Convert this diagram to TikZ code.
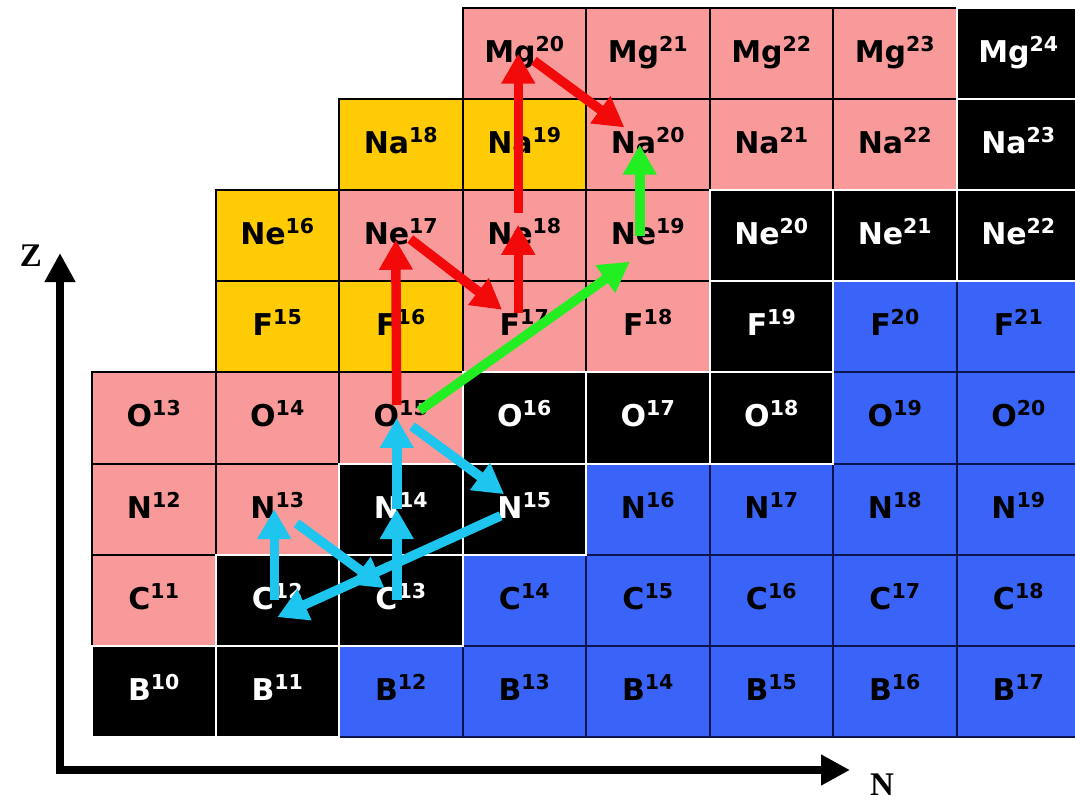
\documentclass[tikz,border=0pt]{standalone}
\usepackage{fontspec}
\usepackage{tikz}
\usetikzlibrary{arrows.meta,calc}
\setsansfont{DejaVu Sans}
\newfontfamily\axisfont{Liberation Serif}
\definecolor{rosy}{HTML}{F99A9A}
\definecolor{amber}{HTML}{FFCB05}
\definecolor{azure}{HTML}{3A64F7}
\definecolor{navy}{HTML}{0B1450}
\definecolor{cno}{HTML}{1EC6EF}
\definecolor{hot}{HTML}{F20A0A}
\definecolor{lime}{HTML}{22EE22}
\newcommand{\nuc}[2]{#1\raisebox{11pt}{\fontsize{20.5}{20.5}\selectfont #2}}

\begin{document}
\begin{tikzpicture}[x=1pt, y=-1pt,
      cell/.style={rectangle, minimum width=123.5pt, minimum height=91.1pt,
                   inner sep=0pt, outer sep=0pt, line width=2pt,
                   font=\sffamily\bfseries\fontsize{30}{36}\selectfont,
                   text height=24pt, text depth=6pt},
      cellr/.style={cell, fill=rosy, draw=black},
      cella/.style={cell, fill=amber, draw=black},
      cellu/.style={cell, fill=azure, draw=navy},
      celld/.style={cell, fill=black, draw=white, text=white},
      flow/.style={line width=9.5pt, -{Triangle[width=32pt,length=30pt]}},
      axis/.style={line width=8pt, line join=miter,
                   {Triangle[width=29pt,length=29pt]}-{Triangle[width=29pt,length=29pt]}},
      axlabel/.style={font=\axisfont\bfseries\fontsize{33}{36}\selectfont}
    ]
      \useasboundingbox (0,0) rectangle (1075,803);
      % chart of nuclides
      \foreach \el/\row/\first/\mass/\kinds in {
          Mg/0/3/20/{r,r,r,r,d},
          Na/1/2/18/{a,a,r,r,r,d},
          Ne/2/1/16/{a,r,r,r,d,d,d},
          F/3/1/15/{a,a,r,r,d,u,u},
          O/4/0/13/{r,r,r,d,d,d,u,u},
          N/5/0/12/{r,r,d,d,u,u,u,u},
          C/6/0/11/{r,d,d,u,u,u,u,u},
          B/7/0/10/{d,d,u,u,u,u,u,u}}
        \foreach \kind [count=\i from 0] in \kinds {
          \pgfmathtruncatemacro{\col}{\first+\i}
          \pgfmathtruncatemacro{\A}{\mass+\i}
          \node[cell\kind] (\el\A) at (153.75+123.5*\col, 53.55+91.1*\row) {\nuc{\el}{\A}};
        }
      \foreach \n in {Mg24,Na23,Ne20,Ne21,Ne22,F19,O16,O17,O18,N14,N15,C12,C13,B10,B11}
        \draw[white, line width=2pt] (\n.north west) rectangle (\n.south east);

      % CNO cycle
      \draw[flow, cno] ([xshift=-3pt]C12.center) -- ([xshift=-3pt]N13.center);
      \draw[flow, cno, shorten <=24pt, shorten >=20pt] (N13.center) -- (C13.center);
      \draw[flow, cno] ([xshift=-4pt]C13.center) -- ([xshift=-4pt]N14.center);
      \draw[flow, cno] ([xshift=-4pt]N14.center) -- ([xshift=-4pt]O15.center);
      \draw[flow, cno, shorten <=14pt, shorten >=25pt] (O15.center) -- (N15.center);
      \draw[flow, cno, shorten <=26pt] ([yshift=4pt]N15.center) -- ([yshift=-17pt]C12.center);

      % breakout
      \draw[flow, hot, shorten <=13pt] ([xshift=-4pt]O15.center) -- ([xshift=-5pt,yshift=-4pt]Ne17.center);
      \draw[flow, hot, shorten <=12pt, shorten >=28pt] ([yshift=4pt]Ne17.center) -- (F17.center);
      \draw[flow, hot, shorten <=14pt] ([xshift=-6pt]F17.center) -- ([xshift=-6pt,yshift=11pt]Ne18.center);
      \draw[flow, hot, shorten <=23pt] ([xshift=-6pt]Ne18.center) -- ([xshift=-6pt]Mg20.center);
      \draw[flow, hot, shorten <=12pt, shorten >=29pt] (Mg20.center) -- (Na20.center);

      \draw[flow, lime, shorten <=23pt] ([yshift=-6pt]O15.center) -- ([xshift=-18pt,yshift=-26pt]Ne19.center);
      \draw[flow, lime] ([xshift=-8pt]Ne19.center) -- ([xshift=-8pt]Na20.center);

      % axes
      \coordinate (origin) at (60,770);
      \coordinate (ztip) at (60,253);
      \coordinate (ntip) at (850,770);
      \draw[axis] (ztip) -- (origin) -- (ntip);
      \node[axlabel] (zlabel) at (31,256) {Z};
      \node[axlabel] (nlabel) at (882,785) {N};
    \end{tikzpicture}
\end{document}
